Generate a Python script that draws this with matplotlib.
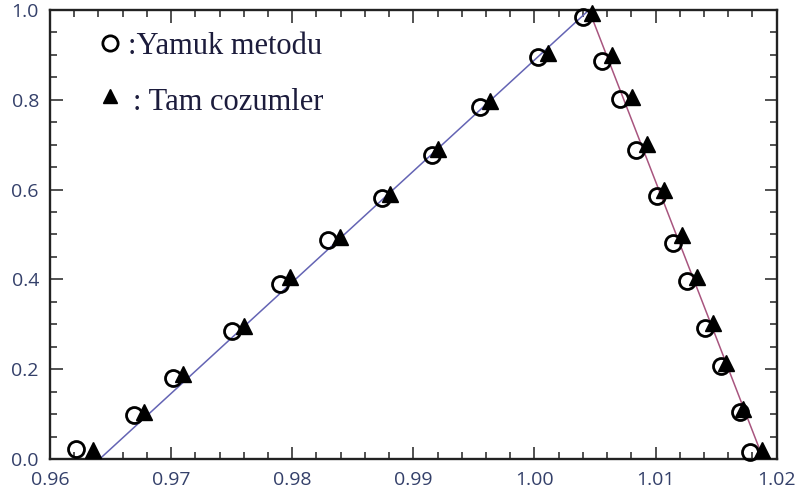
import numpy as np
import matplotlib
matplotlib.use("Agg")
import matplotlib.pyplot as plt
from matplotlib.ticker import MultipleLocator

# trapezoid method results (circles)
yamuk_x = [0.96215, 0.96694, 0.97013, 0.97500, 0.97899, 0.98298, 0.98739,
           0.99157, 0.99551, 1.00032, 1.00399, 1.00556, 1.00707, 1.00839,
           1.01010, 1.01140, 1.01258, 1.01409, 1.01538, 1.01698, 1.01780]
yamuk_y = [0.022, 0.098, 0.180, 0.286, 0.390, 0.488, 0.581, 0.677, 0.785,
           0.896, 0.985, 0.887, 0.801, 0.688, 0.586, 0.480, 0.396, 0.291,
           0.206, 0.105, 0.016]

# exact solutions (triangles)
tam_x = [0.96358, 0.96779, 0.97101, 0.97602, 0.97982, 0.98395, 0.98808,
         0.99207, 0.99633, 1.00115, 1.00473, 1.00638, 1.00804, 1.00932,
         1.01070, 1.01216, 1.01340, 1.01477, 1.01582, 1.01725, 1.01877]
tam_y = [0.020, 0.105, 0.189, 0.296, 0.405, 0.495, 0.590, 0.690, 0.798,
         0.905, 0.993, 0.900, 0.807, 0.702, 0.598, 0.499, 0.406, 0.302,
         0.213, 0.111, 0.020]

# rising and falling edges of the profile
rise_x = [0.9641, 1.0045]
rise_y = [0.0, 1.0]
fall_x = [1.0045, 1.0189]
fall_y = [1.0, 0.0]

x_ticks = [0.96, 0.97, 0.98, 0.99, 1.00, 1.01, 1.02]
y_ticks = [0.0, 0.2, 0.4, 0.6, 0.8, 1.0]

tick_color = '#34406a'
frame_color = '#222222'

fig = plt.figure(figsize=(7.99, 4.99), dpi=100)
ax = fig.add_axes([0.0626, 0.0802, 0.9095, 0.8998])

ax.plot(rise_x, rise_y, color='#6464b4', linewidth=1.1, zorder=2)
ax.plot(fall_x, fall_y, color='#a8557f', linewidth=1.1, zorder=2)

ax.plot(yamuk_x, yamuk_y, linestyle='none', marker='o', markersize=11.5,
        markerfacecolor='none', markeredgecolor='black', markeredgewidth=2.0,
        zorder=3, clip_on=False)
ax.plot(tam_x, tam_y, linestyle='none', marker='^', markersize=11,
        color='black', zorder=4, clip_on=False)

ax.set_xlim(0.96, 1.02)
ax.set_ylim(0.0, 1.0)
ax.set_xticks(x_ticks)
ax.set_xticklabels([f'{v:.2f}' for v in x_ticks], family='Open Sans')
ax.set_yticks(y_ticks)
ax.set_yticklabels([f'{v:.1f}' for v in y_ticks], family='Open Sans')
ax.xaxis.set_minor_locator(MultipleLocator(0.002))
ax.yaxis.set_minor_locator(MultipleLocator(0.05))

ax.tick_params(which='both', direction='in', top=True, right=True,
               color=frame_color, width=1.1)
ax.tick_params(which='major', length=9, labelsize=14, labelcolor=tick_color)
ax.tick_params(which='minor', length=5)
ax.tick_params(axis='x', pad=9)
ax.tick_params(axis='y', pad=8)
for side in ax.spines.values():
    side.set_color(frame_color)
    side.set_linewidth(1.7)

# key drawn inside the frame
ax.plot([0.0826], [0.9265], transform=ax.transAxes, linestyle='none',
        marker='o', markersize=11, markerfacecolor='none',
        markeredgecolor='black', markeredgewidth=2.0, clip_on=False)
ax.plot([0.0826], [0.808], transform=ax.transAxes, linestyle='none',
        marker='^', markersize=10.5, color='black', clip_on=False)
ax.text(0.1073, 0.902, ':Yamuk metodu', transform=ax.transAxes,
        family='Liberation Serif', fontsize=22, color='#1c1c3c',
        va='baseline', ha='left')
ax.text(0.1142, 0.777, ': Tam cozumler', transform=ax.transAxes,
        family='Liberation Serif', fontsize=22, color='#1c1c3c',
        va='baseline', ha='left')

fig.savefig('out.png', dpi=100)
